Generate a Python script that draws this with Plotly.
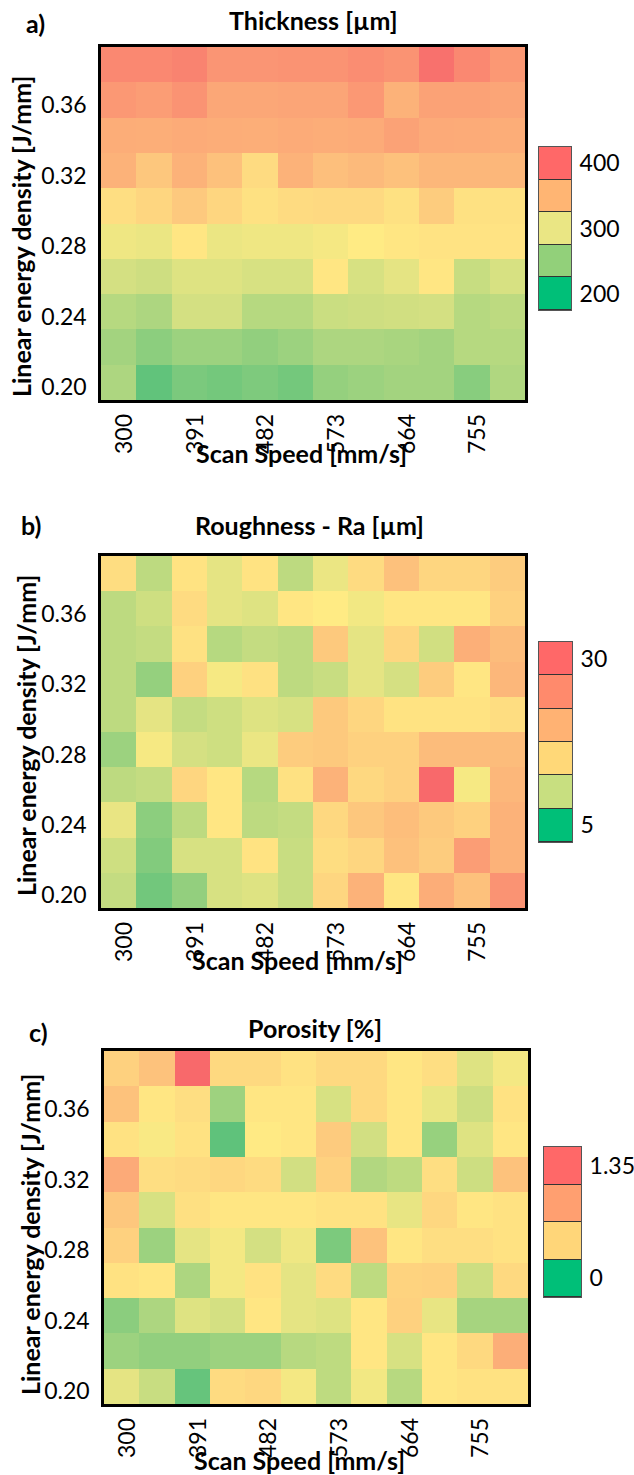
import plotly.graph_objects as go

# ---------------- data ----------------
scan_speed = [300, 345.5, 391, 436.5, 482, 527.5, 573, 618.5, 664, 709.5, 755, 800.5]
energy_density = [0.20, 0.22, 0.24, 0.26, 0.28, 0.30, 0.32, 0.34, 0.36, 0.38]
x_tick_vals = [300, 391, 482, 573, 664, 755]
x_tick_text = ["300", "391", "482", "573", "664", "755"]
y_tick_vals = [0.20, 0.24, 0.28, 0.32, 0.36]
y_tick_text = ["0.20", "0.24", "0.28", "0.32", "0.36"]

# rows: energy density 0.20 (first) ... 0.38 (last); columns: scan speed
thickness = [
    [250, 204, 220, 216, 222, 216, 236, 240, 244, 244, 228, 252],
    [244, 230, 240, 240, 234, 240, 250, 250, 248, 244, 256, 256],
    [256, 250, 274, 274, 256, 256, 268, 270, 272, 274, 256, 260],
    [274, 270, 280, 280, 276, 276, 304, 276, 284, 304, 266, 276],
    [290, 288, 304, 288, 290, 290, 294, 300, 304, 306, 306, 306],
    [310, 316, 326, 316, 308, 312, 314, 314, 308, 324, 308, 308],
    [344, 328, 344, 332, 312, 344, 334, 338, 332, 340, 340, 340],
    [348, 347, 349, 348, 347, 349, 348, 349, 356, 350, 349, 348],
    [364, 360, 368, 352, 352, 354, 354, 364, 344, 356, 356, 354],
    [376, 376, 380, 366, 366, 368, 368, 372, 368, 394, 376, 364],
]

roughness = [
    [13.0, 6.8, 9.3, 14.5, 15.0, 13.3, 19.5, 23.0, 18.0, 23.5, 21.5, 26.0],
    [13.8, 8.0, 14.5, 14.5, 18.3, 13.3, 18.8, 19.5, 21.5, 20.5, 25.0, 23.0],
    [15.8, 8.8, 12.5, 18.0, 12.5, 13.0, 19.3, 21.0, 21.8, 20.8, 20.0, 23.0],
    [12.5, 13.0, 19.5, 18.0, 12.0, 18.5, 23.0, 19.3, 20.0, 30.0, 16.8, 22.5],
    [10.0, 16.8, 14.3, 13.8, 16.0, 20.5, 20.8, 20.0, 20.0, 22.0, 22.0, 22.0],
    [12.5, 15.5, 13.0, 13.8, 15.0, 14.5, 20.8, 19.5, 18.3, 18.3, 18.3, 18.8],
    [12.5, 9.5, 20.0, 16.8, 18.5, 12.5, 13.3, 15.5, 14.3, 20.5, 18.0, 22.5],
    [12.5, 13.0, 18.5, 12.0, 13.0, 12.5, 20.8, 15.5, 19.5, 14.0, 23.3, 22.0],
    [12.5, 13.8, 19.0, 15.5, 15.0, 18.0, 17.5, 16.5, 18.0, 18.0, 18.0, 20.0],
    [18.8, 12.5, 18.3, 15.5, 18.3, 12.5, 16.0, 19.0, 21.5, 19.5, 19.5, 20.5],
]

porosity = [
    [0.57, 0.45, 0.05, 0.76, 0.78, 0.63, 0.41, 0.62, 0.38, 0.70, 0.72, 0.72],
    [0.27, 0.23, 0.23, 0.27, 0.27, 0.38, 0.41, 0.70, 0.51, 0.70, 0.77, 0.99],
    [0.20, 0.34, 0.54, 0.50, 0.70, 0.57, 0.54, 0.70, 0.81, 0.58, 0.31, 0.31],
    [0.72, 0.70, 0.34, 0.63, 0.72, 0.57, 0.76, 0.41, 0.80, 0.81, 0.47, 0.77],
    [0.81, 0.27, 0.57, 0.63, 0.50, 0.61, 0.14, 0.89, 0.70, 0.74, 0.74, 0.72],
    [0.86, 0.51, 0.73, 0.70, 0.70, 0.70, 0.72, 0.72, 0.58, 0.78, 0.70, 0.72],
    [1.01, 0.74, 0.76, 0.78, 0.76, 0.49, 0.81, 0.36, 0.41, 0.74, 0.47, 0.89],
    [0.72, 0.65, 0.72, 0.02, 0.68, 0.70, 0.84, 0.49, 0.70, 0.25, 0.54, 0.70],
    [0.89, 0.70, 0.74, 0.28, 0.70, 0.70, 0.51, 0.77, 0.70, 0.59, 0.47, 0.72],
    [0.81, 0.89, 1.35, 0.77, 0.77, 0.72, 0.77, 0.77, 0.70, 0.74, 0.54, 0.63],
]

# legend boxes (bottom -> top)
thick_cbar_values = [200, 250, 300, 350, 400]
thick_cbar_ticks = [200, 300, 400]
thick_cbar_text = ["200", "300", "400"]
rough_cbar_values = [5, 10, 15, 20, 25, 30]
rough_cbar_ticks = [5, 30]
rough_cbar_text = ["5", "30"]
poro_cbar_values = [0, 0.45, 0.9, 1.35]
poro_cbar_ticks = [0, 1.35]
poro_cbar_text = ["0", "1.35"]

# ---------------- styles ----------------
heat_scale = [[0.0, "#5AC17B"], [0.5, "#FFEB84"], [1.0, "#F8696B"]]
thick_cbar_colors = ["#00BF78", "#92D07A", "#EAE684", "#FFB573", "#FF6868"]
rough_cbar_colors = ["#00BF78", "#C8DF80", "#FFD878", "#FFB273", "#FF8A6C", "#FF6868"]
poro_cbar_colors = ["#00BF78", "#FFD679", "#FF9F70", "#FF6868"]

W, H = 634, 1475
FONT = "Lato"
FS = 23
FSB = 25


def px(x):
    return x / W


def py(y):
    return 1 - y / H


panels = [
    dict(z=thickness, cvals=thick_cbar_values, cticks=thick_cbar_ticks, ctext=thick_cbar_text,
         ccolors=thick_cbar_colors, title="Thickness [µm]", tag="a)",
         box=(101, 525, 47, 400), cbox=(539, 571, 147, 310),
         title_xy=(313, 20), tag_xy=(35, 23), ylab_xy=(21, 237), xlab_xy=(301, 453)),
    dict(z=roughness, cvals=rough_cbar_values, cticks=rough_cbar_ticks, ctext=rough_cbar_text,
         ccolors=rough_cbar_colors, title="Roughness - Ra [µm]", tag="b)",
         box=(101, 525, 556, 908), cbox=(539, 572, 642, 842),
         title_xy=(309, 525), tag_xy=(31, 525), ylab_xy=(26, 736), xlab_xy=(297, 960)),
    dict(z=porosity, cvals=poro_cbar_values, cticks=poro_cbar_ticks, ctext=poro_cbar_text,
         ccolors=poro_cbar_colors, title="Porosity [%]", tag="c)",
         box=(104, 528, 1051, 1404), cbox=(544, 581, 1147, 1297),
         title_xy=(315, 1028), tag_xy=(38, 1032), ylab_xy=(30, 1235), xlab_xy=(299, 1460)),
]

fig = go.Figure()
layout = dict(
    width=W, height=H, margin=dict(l=0, r=0, t=0, b=0),
    paper_bgcolor="white", plot_bgcolor="#333333",
    font=dict(family=FONT, size=FS, color="black"),
    showlegend=False,
)
annotations = []

xstep = scan_speed[1] - scan_speed[0]
ystep = energy_density[1] - energy_density[0]
xrange_ = [scan_speed[0] - xstep / 2, scan_speed[-1] + xstep / 2]
yrange_ = [energy_density[0] - ystep / 2, energy_density[-1] + ystep / 2]

for i, p in enumerate(panels):
    hn = 2 * i + 1
    cn = 2 * i + 2
    zmin, zmax = min(p["cvals"]), max(p["cvals"])
    fig.add_trace(go.Heatmap(
        x=scan_speed, y=energy_density, z=p["z"], zmin=zmin, zmax=zmax,
        colorscale=heat_scale, showscale=False,
        xaxis="x%d" % hn, yaxis="y%d" % hn,
    ))
    # legend boxes
    cv = p["cvals"]
    n = len(cv)
    cscale = [[k / (n - 1), c] for k, c in enumerate(p["ccolors"])]
    fig.add_trace(go.Heatmap(
        x=[0], y=cv, z=[[v] for v in cv], zmin=zmin, zmax=zmax,
        colorscale=cscale, showscale=False, ygap=1,
        xaxis="x%d" % cn, yaxis="y%d" % cn, hoverinfo="skip",
    ))
    l, r, t, b = p["box"]
    layout["xaxis%d" % hn] = dict(
        domain=[px(l), px(r)], anchor="y%d" % hn, range=xrange_,
        tickmode="array", tickvals=x_tick_vals, ticktext=x_tick_text, tickangle=-90,
        showline=True, mirror=True, linecolor="black", linewidth=2.5,
        ticks="", showgrid=False, zeroline=False, ticklabelstandoff=2, ticklabelshift=6,
        tickfont=dict(family=FONT, size=FS, color="black"),
    )
    layout["yaxis%d" % hn] = dict(
        domain=[py(b), py(t)], anchor="x%d" % hn, range=yrange_,
        tickmode="array", tickvals=y_tick_vals, ticktext=y_tick_text,
        showline=True, mirror=True, linecolor="black", linewidth=2.5,
        ticks="", showgrid=False, zeroline=False, ticklabelstandoff=7, ticklabelshift=5,
        tickfont=dict(family=FONT, size=FS, color="black"),
    )
    cl, cr, ct, cb = p["cbox"]
    cstep = cv[1] - cv[0]
    layout["xaxis%d" % cn] = dict(
        domain=[px(cl), px(cr)], anchor="y%d" % cn, range=[-0.5, 0.5],
        showticklabels=False, ticks="", showgrid=False, zeroline=False,
        showline=True, mirror=True, linecolor="#555555", linewidth=1,
    )
    layout["yaxis%d" % cn] = dict(
        domain=[py(cb), py(ct)], anchor="x%d" % cn, side="right",
        range=[cv[0] - cstep / 2, cv[-1] + cstep / 2],
        tickmode="array", tickvals=p["cticks"], ticktext=p["ctext"],
        ticks="", showgrid=False, zeroline=False, ticklabelstandoff=3,
        showline=True, mirror=True, linecolor="#555555", linewidth=1,
        tickfont=dict(family=FONT, size=FS, color="black"),
    )
    bold = dict(family=FONT, size=FSB, color="black", weight="bold")
    tx, ty = p["title_xy"]
    annotations.append(dict(text=p["title"], x=px(tx), y=py(ty), xref="paper", yref="paper",
                            xanchor="center", yanchor="middle", showarrow=False, font=bold))
    gx, gy = p["tag_xy"]
    annotations.append(dict(text=p["tag"], x=px(gx), y=py(gy), xref="paper", yref="paper",
                            xanchor="center", yanchor="middle", showarrow=False, font=bold))
    lx, ly = p["ylab_xy"]
    annotations.append(dict(text="Linear energy density [J/mm]", x=px(lx), y=py(ly),
                            xref="paper", yref="paper", textangle=-90,
                            xanchor="center", yanchor="middle", showarrow=False, font=bold))
    sx, sy = p["xlab_xy"]
    annotations.append(dict(text="Scan Speed [mm/s]", x=px(sx), y=py(sy),
                            xref="paper", yref="paper",
                            xanchor="center", yanchor="middle", showarrow=False, font=bold))

layout["annotations"] = annotations
fig.update_layout(**layout)
fig.write_html("out.html")
